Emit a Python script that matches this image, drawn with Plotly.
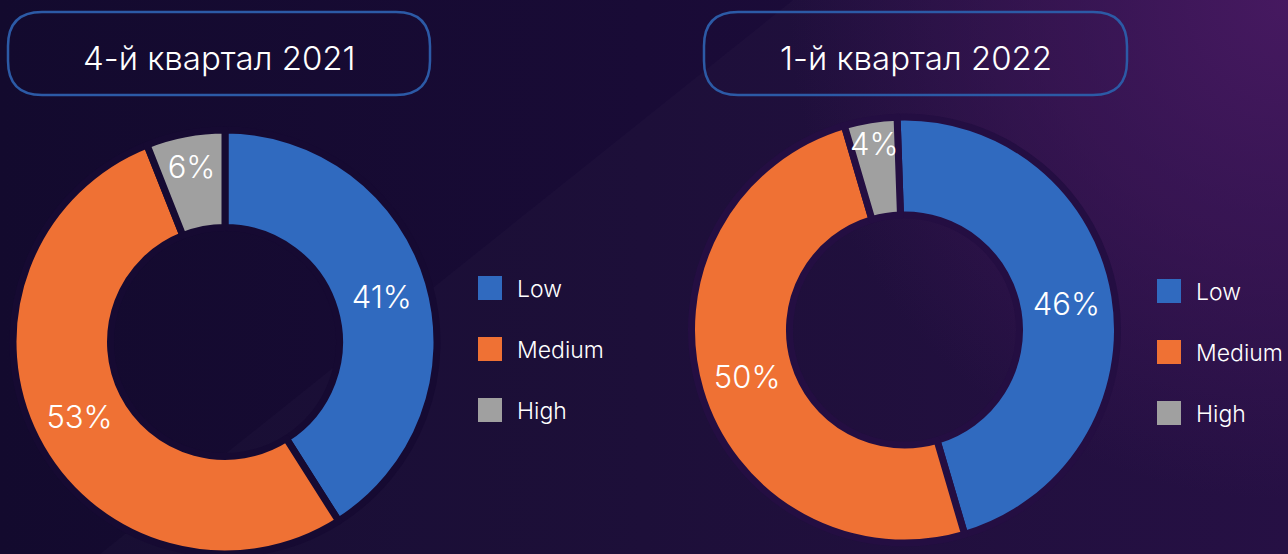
import base64
import plotly.graph_objects as go

# ---------------- data ----------------
categories = ["Low", "Medium", "High"]
q4_2021 = [41, 53, 6]
q1_2022 = [46, 50, 4]
titles = ["4-й квартал 2021", "1-й квартал 2022"]
colors = ["#306abf", "#ef7134", "#a0a0a0"]

W, H = 1288, 554
FONT = "Inter, Noto Sans, sans-serif"


def px(x):
    return x / W


def py(y):
    return 1 - y / H


# ---------------- background (SVG gradient) ----------------
svg = f'''<svg xmlns="http://www.w3.org/2000/svg" width="{W}" height="{H}" viewBox="0 0 {W} {H}" preserveAspectRatio="none">
<defs>
<linearGradient id="base" x1="0" y1="0" x2="1" y2="0">
<stop offset="0" stop-color="#130a2e"/>
<stop offset="0.5" stop-color="#190b36"/>
<stop offset="1" stop-color="#220c41"/>
</linearGradient>
<radialGradient id="glow" gradientUnits="userSpaceOnUse" cx="{W}" cy="0" r="500">
<stop offset="0" stop-color="#43155d" stop-opacity="1"/>
<stop offset="1" stop-color="#43155d" stop-opacity="0"/>
</radialGradient>
</defs>
<rect width="{W}" height="{H}" fill="url(#base)"/>
<rect width="{W}" height="{H}" fill="url(#glow)"/>
<polygon points="793,0 {W},0 {W},{H} 100,{H}" fill="#ffffff" fill-opacity="0.018"/>
</svg>'''
bg_src = "data:image/svg+xml;base64," + base64.b64encode(svg.encode()).decode()

fig = go.Figure()

# ---------------- pies ----------------
pie_specs = [
    dict(values=q4_2021, x=[px(12), px(438)], y=[0.0, py(130)], rot=0, line="#160a32"),
    dict(values=q1_2022, x=[px(691), px(1118)], y=[py(543), py(117)], rot=-2, line="#240e42"),
]
for spec in pie_specs:
    fig.add_trace(go.Pie(
        labels=categories,
        values=spec["values"],
        hole=0.54,
        sort=False,
        direction="clockwise",
        rotation=spec["rot"],
        marker=dict(colors=colors, line=dict(color=spec["line"], width=7)),
        textinfo="percent",
        textposition="inside",
        insidetextorientation="horizontal",
        textfont=dict(size=31, color="white", family=FONT, weight=300),
        domain=dict(x=spec["x"], y=spec["y"]),
        showlegend=False,
        hoverinfo="label+percent",
    ))

shapes = []
annotations = []

# ---------------- title boxes ----------------
boxes = [(8, 12, 430, 95), (704, 12, 1127, 95)]
r = 34
for (x0, y0, x1, y1), title in zip(boxes, titles):
    path = (
        f"M {px(x0 + r)},{py(y0)} L {px(x1 - r)},{py(y0)} "
        f"Q {px(x1)},{py(y0)} {px(x1)},{py(y0 + r)} "
        f"L {px(x1)},{py(y1 - r)} "
        f"Q {px(x1)},{py(y1)} {px(x1 - r)},{py(y1)} "
        f"L {px(x0 + r)},{py(y1)} "
        f"Q {px(x0)},{py(y1)} {px(x0)},{py(y1 - r)} "
        f"L {px(x0)},{py(y0 + r)} "
        f"Q {px(x0)},{py(y0)} {px(x0 + r)},{py(y0)} Z"
    )
    shapes.append(dict(type="path", xref="paper", yref="paper", path=path,
                       line=dict(color="#2c5aa6", width=2.5), fillcolor="rgba(0,0,0,0)"))
    annotations.append(dict(
        x=px((x0 + x1) / 2), y=py((y0 + y1) / 2 + 4), xref="paper", yref="paper",
        text=title, showarrow=False, xanchor="center", yanchor="middle",
        font=dict(size=33, color="white", family=FONT, weight=300),
    ))

# ---------------- legends ----------------
legend_pos = [(478, 288), (1157, 291)]
step = 61
size = 24
for lx, ly in legend_pos:
    for i, (cat, col) in enumerate(zip(categories, colors)):
        cy = ly + i * step
        shapes.append(dict(type="rect", xref="paper", yref="paper",
                           x0=px(lx), x1=px(lx + size),
                           y0=py(cy - size / 2), y1=py(cy + size / 2),
                           fillcolor=col, line=dict(width=0)))
        annotations.append(dict(
            x=px(lx + 37), y=py(cy + 1), xref="paper", yref="paper",
            text=cat, showarrow=False, xanchor="left", yanchor="middle",
            font=dict(size=23, color="white", family=FONT, weight=300),
        ))

fig.update_layout(
    width=W, height=H,
    margin=dict(l=0, r=0, t=0, b=0),
    paper_bgcolor="#150a31",
    plot_bgcolor="rgba(0,0,0,0)",
    images=[dict(source=bg_src, xref="paper", yref="paper", x=0, y=1,
                 sizex=1, sizey=1, sizing="stretch", layer="below",
                 xanchor="left", yanchor="top")],
    shapes=shapes,
    annotations=annotations,
    uniformtext=dict(minsize=31, mode="show"),
    showlegend=False,
)

fig.write_html("out.html")
